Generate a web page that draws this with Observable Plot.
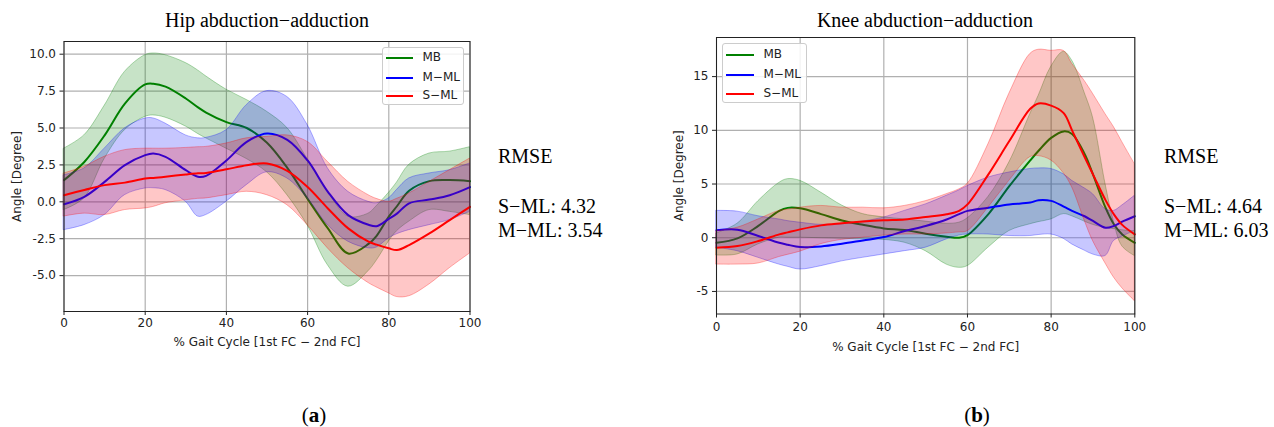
<!DOCTYPE html>
<html>
<head>
<meta charset="utf-8">
<script src="https://cdn.jsdelivr.net/npm/d3@7"></script>
<script src="https://cdn.jsdelivr.net/npm/@observablehq/plot@0.6"></script>
<style>
  html, body { margin: 0; padding: 0; background: #fff; }
  #root { position: relative; width: 1274px; height: 427px; background: #fff; overflow: hidden; }
  .abs { position: absolute; white-space: nowrap; }
  .title { font-family: "Liberation Serif", "Times New Roman", serif; font-size: 20px; line-height: 24px; text-align: center; color: #000; }
  .rmse { font-family: "Liberation Serif", "Times New Roman", serif; font-size: 20px; line-height: 20px; color: #000; }
  .sub { font-family: "Liberation Serif", "Times New Roman", serif; font-size: 21px; line-height: 24px; text-align: center; color: #000; }
  .legend { position: absolute; border: 1px solid #cccccc; border-radius: 3px; background: rgba(255,255,255,0.85); box-sizing: border-box; }
  .legend .sw { position: absolute; height: 2px; }
  .legend .lt { position: absolute; font-family: "DejaVu Sans", sans-serif; font-size: 12px; line-height: 13px; color: #222; }
</style>
</head>
<body>
<div id="root"></div>
<script>
// ---------- data ----------
const seriesNames = ["MB", "M\u2212ML", "S\u2212ML"];
const seriesColors = ["#008000", "#0000ff", "#ff0000"];
const xTicks = [0, 20, 40, 60, 80, 100];
const xTickLabels = ["0", "20", "40", "60", "80", "100"];

// Hip abduction-adduction
const hipX =      [0, 5, 10, 15, 20, 22, 25, 30, 33, 35, 40, 45, 50, 55, 60, 65, 70, 75, 77, 80, 82, 85, 90, 95, 100];
const hipMB =     [1.47, 2.7, 4.5, 6.65, 7.95, 8.0, 7.8, 7.0, 6.4, 6.05, 5.4, 5.0, 4.0, 2.3, 0.2, -1.8, -3.5, -2.85, -2.3, -1.0, -0.3, 0.75, 1.4, 1.47, 1.4];
const hipMBHi =   [3.6, 4.5, 6.5, 8.8, 9.93, 10.05, 9.93, 9.4, 8.9, 8.5, 7.6, 6.9, 6.1, 5.0, 2.9, 0.7, -1.0, -0.8, -0.3, 0.6, 1.3, 2.5, 3.27, 3.4, 3.7];
const hipMBLo =   [-0.56, 0.23, 2.9, 4.85, 5.75, 5.85, 5.7, 5.1, 4.6, 4.3, 3.6, 2.9, 2.0, 0.45, -1.6, -4.3, -5.75, -4.7, -4.0, -2.7, -2.0, -1.35, -0.56, -0.68, -0.9];
const hipMML =    [-0.16, 0.34, 1.35, 2.48, 3.16, 3.27, 3.05, 2.14, 1.7, 1.76, 2.8, 4.06, 4.63, 4.2, 2.8, 0.68, -0.9, -1.55, -1.65, -1.15, -0.8, -0.1, 0.15, 0.45, 1.0];
const hipMMLHi =  [1.8, 2.26, 3.6, 4.97, 5.64, 5.65, 5.3, 4.5, 4.3, 4.33, 4.85, 6.55, 7.5, 7.1, 5.2, 2.26, 0.68, 0.0, -0.1, 0.23, 0.8, 1.58, 1.92, 2.14, 2.6];
const hipMMLLo =  [-1.92, -1.58, -0.9, 0.45, 0.9, 0.92, 0.8, 0.0, -1.0, -0.9, 0.0, 1.13, 2.0, 1.58, 0.23, -1.58, -2.7, -3.15, -3.1, -2.48, -2.2, -1.92, -1.58, -1.24, -0.68];
const hipSML =    [0.45, 0.8, 1.13, 1.3, 1.58, 1.62, 1.7, 1.85, 1.93, 1.96, 2.2, 2.48, 2.6, 2.1, 1.0, -0.45, -1.8, -2.7, -2.9, -3.15, -3.27, -2.93, -2.14, -1.24, -0.34];
const hipSMLHi =  [1.92, 2.37, 3.05, 3.5, 3.6, 3.6, 3.6, 3.65, 3.7, 3.72, 3.95, 4.3, 4.4, 4.5, 4.06, 2.7, 1.35, 0.45, 0.2, 0.0, 0.2, 0.56, 1.35, 2.14, 2.93];
const hipSMLLo =  [-1.0, -0.8, -0.9, -0.56, -0.45, -0.35, -0.1, 0.1, 0.2, 0.23, 0.45, 0.68, 0.45, -0.23, -1.58, -3.16, -4.5, -5.5, -5.8, -6.2, -6.45, -6.4, -5.6, -4.5, -3.5];
const hipYTicks = [-5, -2.5, 0, 2.5, 5, 7.5, 10];
const hipYTickLabels = ["-5.0", "-2.5", "0.0", "2.5", "5.0", "7.5", "10.0"];
const hipRMSE = ["S\u2212ML: 4.32", "M\u2212ML: 3.54"];

// Knee abduction-adduction
const kneeX =      [0, 5, 10, 15, 17, 20, 25, 30, 35, 40, 45, 50, 55, 58, 60, 65, 70, 75, 77, 80, 83, 85, 88, 90, 93, 95, 97, 100];
const kneeMB =     [-0.47, -0.06, 1.1, 2.5, 2.78, 2.74, 2.2, 1.6, 1.2, 0.87, 0.72, 0.37, 0.1, 0.0, 0.25, 2.2, 4.8, 7.2, 8.1, 9.3, 9.9, 9.66, 7.8, 5.9, 2.8, 1.25, 0.3, -0.47];
const kneeMBHi =   [0.4, 1.3, 3.4, 5.1, 5.45, 5.3, 4.2, 3.0, 2.2, 1.9, 1.7, 1.5, 1.3, 1.4, 1.8, 3.8, 7.0, 11.5, 13.2, 15.9, 17.3, 16.5, 13.5, 11.2, 5.0, 1.5, -0.8, -1.7];
const kneeMBLo =   [-1.65, -1.56, -0.62, 0.0, 0.0, 0.0, -0.05, -0.1, -0.15, -0.2, -0.47, -1.25, -2.5, -2.8, -2.65, -0.93, 0.62, 1.25, 1.45, 1.7, 2.2, 2.0, 1.5, 1.2, 0.9, 0.8, 0.7, 0.6];
const kneeMML =    [0.69, 0.75, 0.16, -0.47, -0.65, -0.87, -0.81, -0.56, -0.25, 0.06, 0.62, 1.1, 1.7, 2.2, 2.5, 2.8, 3.1, 3.27, 3.5, 3.43, 2.9, 2.5, 2.0, 1.56, 0.93, 1.1, 1.5, 2.0];
const kneeMMLHi =  [2.5, 2.43, 2.0, 1.7, 1.55, 1.4, 1.2, 1.25, 1.5, 1.87, 2.5, 3.1, 3.9, 4.4, 4.8, 5.6, 6.07, 6.4, 6.45, 6.4, 5.9, 5.3, 4.6, 4.05, 2.65, 2.5, 3.0, 3.9];
const kneeMMLLo =  [-0.93, -1.25, -1.87, -2.5, -2.7, -2.96, -2.65, -2.2, -1.87, -1.56, -1.25, -0.93, -0.16, 0.2, 0.3, 0.3, 0.16, 0.16, 0.25, 0.3, -0.1, -0.62, -1.2, -1.56, -1.7, -0.31, 0.1, 0.62];
const kneeSML =    [-0.93, -0.78, -0.31, 0.31, 0.5, 0.78, 1.15, 1.34, 1.5, 1.62, 1.7, 1.93, 2.18, 2.5, 3.1, 5.9, 9.0, 12.0, 12.5, 12.3, 11.6, 10.0, 7.5, 5.9, 3.5, 2.18, 1.2, 0.31];
const kneeSMLHi =  [0.62, 0.93, 1.7, 2.5, 2.6, 2.8, 2.96, 2.8, 2.8, 2.74, 2.96, 3.4, 4.05, 4.5, 5.0, 8.7, 13.4, 17.1, 17.5, 17.4, 17.4, 16.2, 14.6, 13.4, 11.5, 10.3, 8.9, 6.85];
const kneeSMLLo =  [-2.5, -2.5, -2.4, -1.8, -1.6, -1.3, -0.6, -0.2, 0.0, 0.2, 0.3, 0.3, 0.4, 0.5, 0.6, 2.8, 5.3, 7.5, 7.6, 7.2, 6.0, 4.7, 1.6, -0.3, -2.4, -3.7, -4.7, -5.9];
const kneeYTicks = [-5, 0, 5, 10, 15];
const kneeYTickLabels = ["-5", "0", "5", "10", "15"];
const kneeRMSE = ["S\u2212ML: 4.64", "M\u2212ML: 6.03"];

const titles = ["Hip abduction\u2212adduction", "Knee abduction\u2212adduction"];
const xLabel = "% Gait Cycle [1st FC \u2212 2nd FC]";
const yLabel = "Angle [Degree]";
const panelLetters = ["a", "b"];

// ---------- drawing ----------
const root = document.getElementById("root");

function rows(xs, mean, lo, hi) {
  return xs.map((x, i) => ({x, mean: mean[i], lo: lo[i], hi: hi[i]}));
}

function makePanel(cfg) {
  const marks = [
    Plot.gridX(cfg.xTicks, {stroke: "#b0b0b0", strokeOpacity: 1, strokeWidth: 1.2}),
    Plot.gridY(cfg.yTicks, {stroke: "#b0b0b0", strokeOpacity: 1, strokeWidth: 1.2})
  ];
  cfg.series.forEach((s, i) => {
    marks.push(Plot.areaY(s, {x: "x", y1: "lo", y2: "hi", fill: seriesColors[i], fillOpacity: 0.22,
      stroke: seriesColors[i], strokeOpacity: 0.3, strokeWidth: 1, curve: "catmull-rom"}));
    marks.push(Plot.lineY(s, {x: "x", y: "mean", stroke: seriesColors[i], strokeWidth: 2, curve: "catmull-rom"}));
  });
  marks.push(
    Plot.frame({stroke: "#222", strokeWidth: 1}),
    Plot.axisX({ticks: cfg.xTicks, tickFormat: d => xTickLabels[xTicks.indexOf(d)], tickSize: 4,
      tickPadding: cfg.xPad, label: null, stroke: "#222", fontSize: 12}),
    Plot.axisY({ticks: cfg.yTicks, tickFormat: d => cfg.yLabels[cfg.yTicks.indexOf(d)], tickSize: 4,
      tickPadding: 4, label: null, stroke: "#222", fontSize: 12}),
    Plot.text([xLabel], {frameAnchor: "bottom", dy: cfg.xLabDy, text: d => d, lineAnchor: "middle",
      fontSize: 12, fill: "#222"}),
    Plot.text([yLabel], {frameAnchor: "left", dx: cfg.yLabDx, text: d => d, rotate: -90, lineAnchor: "middle",
      textAnchor: "middle", fontSize: 12, fill: "#222"})
  );
  const svg = Plot.plot({
    width: cfg.width, height: cfg.height,
    marginLeft: cfg.mL, marginRight: cfg.mR, marginTop: cfg.mT, marginBottom: cfg.mB,
    x: {domain: [0, 100]},
    y: {domain: cfg.yDomain},
    style: {fontFamily: "DejaVu Sans, sans-serif", fontSize: "12px", color: "#222", background: "transparent", overflow: "visible"},
    marks
  });
  svg.style.position = "absolute";
  svg.style.left = cfg.left + "px";
  svg.style.top = cfg.top + "px";
  root.appendChild(svg);
}

function addDiv(cls, text, styles) {
  const d = document.createElement("div");
  d.className = "abs " + cls;
  d.textContent = text;
  Object.assign(d.style, styles);
  root.appendChild(d);
  return d;
}

function addLegend(box, ys, lineX0, lineX1, textX) {
  const L = document.createElement("div");
  L.className = "legend";
  Object.assign(L.style, {left: box[0] + "px", top: box[1] + "px", width: box[2] + "px", height: box[3] + "px"});
  seriesNames.forEach((name, i) => {
    const sw = document.createElement("div");
    sw.className = "sw";
    Object.assign(sw.style, {left: lineX0 + "px", width: (lineX1 - lineX0) + "px", top: (ys[i] - 1) + "px", background: seriesColors[i]});
    L.appendChild(sw);
    const t = document.createElement("div");
    t.className = "lt";
    t.textContent = name;
    Object.assign(t.style, {left: textX + "px", top: (ys[i] - 7) + "px"});
    L.appendChild(t);
  });
  root.appendChild(L);
}

// Panel (a)
makePanel({
  left: 0, top: 35, width: 480, height: 321, mL: 63.5, mR: 10.5, mT: 6, mB: 45,
  yDomain: [-7.43, 10.86], yTicks: hipYTicks, yLabels: hipYTickLabels, xTicks,
  xPad: 3, xLabDy: 31, yLabDx: -47,
  series: [rows(hipX, hipMB, hipMBLo, hipMBHi), rows(hipX, hipMML, hipMMLLo, hipMMLHi), rows(hipX, hipSML, hipSMLLo, hipSMLHi)]
});
// Panel (b)
makePanel({
  left: 650, top: 31, width: 494, height: 328, mL: 66, mR: 9.7, mT: 6, mB: 45.5,
  yDomain: [-7.1, 18.64], yTicks: kneeYTicks, yLabels: kneeYTickLabels, xTicks,
  xPad: 4.5, xLabDy: 33, yLabDx: -37,
  series: [rows(kneeX, kneeMB, kneeMBLo, kneeMBHi), rows(kneeX, kneeMML, kneeMMLLo, kneeMMLHi), rows(kneeX, kneeSML, kneeSMLLo, kneeSMLHi)]
});

// Titles
addDiv("title", titles[0], {left: "117px", width: "300px", top: "8px"});
addDiv("title", titles[1], {left: "775px", width: "300px", top: "8px"});

// Legends
addLegend([382, 47, 82, 58], [10, 30, 48], 3, 30, 39.5);
addLegend([722, 43, 85, 60], [11, 30.5, 50], 3, 31, 40.5);

// RMSE annotations
[[498, hipRMSE], [1164, kneeRMSE]].forEach(([x, vals]) => {
  addDiv("rmse", "RMSE", {left: x + "px", top: "146px"});
  addDiv("rmse", vals[0], {left: x + "px", top: "196px"});
  addDiv("rmse", vals[1], {left: x + "px", top: "220px"});
});

// Panel letters
[[314, panelLetters[0]], [977, panelLetters[1]]].forEach(([cx, letter]) => {
  const d = addDiv("sub", "", {left: (cx - 40) + "px", width: "80px", top: "403px"});
  d.append("(");
  const b = document.createElement("b");
  b.textContent = letter;
  d.appendChild(b);
  d.append(")");
});
</script>
</body>
</html>
